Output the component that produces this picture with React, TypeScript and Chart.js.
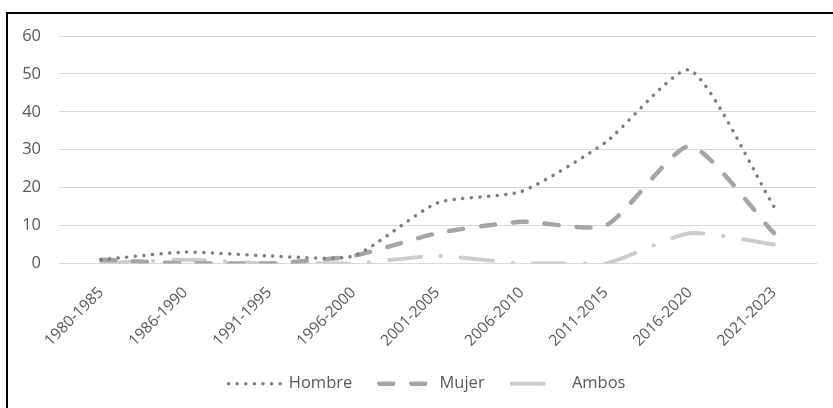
import React, { useEffect, useRef } from "react";
import { Chart, registerables } from "chart.js";

Chart.register(...registerables);

const categories = ["1980-1985", "1986-1990", "1991-1995", "1996-2000", "2001-2005", "2006-2010", "2011-2015", "2016-2020", "2021-2023"];
const hombre = [1, 3, 2, 2, 16, 19, 32, 51, 15];
const mujer = [1, 0, 0, 2, 8, 11, 10, 31, 8];
const ambos = [0, 1, 0, 0, 2, 0, 0, 8, 5];
const seriesNames = ["Hombre", "Mujer", "Ambos"];

const FONT = "'Open Sans', sans-serif";
const FSIZE = 16.5;

const legendShift = {
  id: "legendShift",
  afterLayout(chart: any) {
    if (chart.legend) {
      chart.legend.left += 15;
      chart.legend.right += 15;
    }
  },
};

export default function App() {
  const ref = useRef<HTMLCanvasElement | null>(null);
  useEffect(() => {
    if (!ref.current) return;
    const chart = new Chart(ref.current, {
      type: "line",
      plugins: [legendShift],
      data: {
        labels: categories,
        datasets: [
          {
            label: seriesNames[0],
            data: hombre,
            borderColor: "#7f7f7f",
            backgroundColor: "#7f7f7f",
            borderWidth: 3.5,
            borderDash: [0.1, 8.5],
            borderCapStyle: "round",
            pointRadius: 0,
            tension: 0.2,
          },
          {
            label: seriesNames[1],
            data: mujer,
            borderColor: "#a5a5a5",
            backgroundColor: "#a5a5a5",
            borderWidth: 4.5,
            borderDash: [14, 18],
            borderCapStyle: "round",
            pointRadius: 0,
            tension: 0.2,
          },
          {
            label: seriesNames[2],
            data: ambos,
            borderColor: "#cccccc",
            backgroundColor: "#cccccc",
            borderWidth: 4,
            borderDash: [32, 20, 0.1, 20],
            borderCapStyle: "round",
            pointRadius: 0,
            tension: 0.2,
          },
        ],
      },
      options: {
        animation: false,
        responsive: false,
        layout: { padding: { top: 22, right: 17, left: 0, bottom: 6 } },
        plugins: {
          tooltip: { enabled: false },
          legend: {
            position: "bottom",
            labels: {
              usePointStyle: true,
              pointStyleWidth: 52,
              boxHeight: 10,
              padding: 27,
              color: "#595959",
              font: { family: FONT, size: FSIZE },
              generateLabels: (c: any) =>
                c.data.datasets.map((d: any, i: number) => ({
                  text: d.label,
                  datasetIndex: i,
                  pointStyle: "line",
                  fillStyle: d.borderColor,
                  strokeStyle: d.borderColor,
                  lineWidth: d.borderWidth,
                  lineDash: d.borderDash,
                  lineCap: "round",
                  fontColor: "#595959",
                  hidden: false,
                })),
            },
          },
        },
        scales: {
          x: {
            offset: true,
            grid: { display: false, drawTicks: false },
            border: { display: true, color: "#d9d9d9", width: 1 },
            ticks: {
              color: "#595959",
              font: { family: FONT, size: 15.5 },
              minRotation: 45,
              maxRotation: 45,
              padding: 20,
              autoSkip: false,
            },
            afterFit: (s: any) => {
              s.height = 85;
              s.paddingLeft = 0;
              s.paddingRight = 0;
            },
          },
          y: {
            min: 0,
            max: 60,
            grid: { color: "#d9d9d9", lineWidth: 1, drawTicks: false },
            border: { display: false },
            ticks: {
              stepSize: 10,
              color: "#595959",
              font: { family: FONT, size: FSIZE },
              padding: 18,
            },
            afterFit: (s: any) => {
              s.width = 51;
              s.paddingTop = 0;
              s.paddingBottom = 0;
            },
          },
        },
      },
    });
    return () => chart.destroy();
  }, []);
  return (
    <div
      style={{
        position: "absolute",
        left: 6,
        top: 12,
        width: 840,
        height: 410,
        borderLeft: "2px solid #000",
        borderTop: "2px solid #000",
        overflow: "hidden",
      }}
    >
      <canvas ref={ref} width={825} height={394} style={{ display: "block", width: 825, height: 394 }} />
    </div>
  );
}
